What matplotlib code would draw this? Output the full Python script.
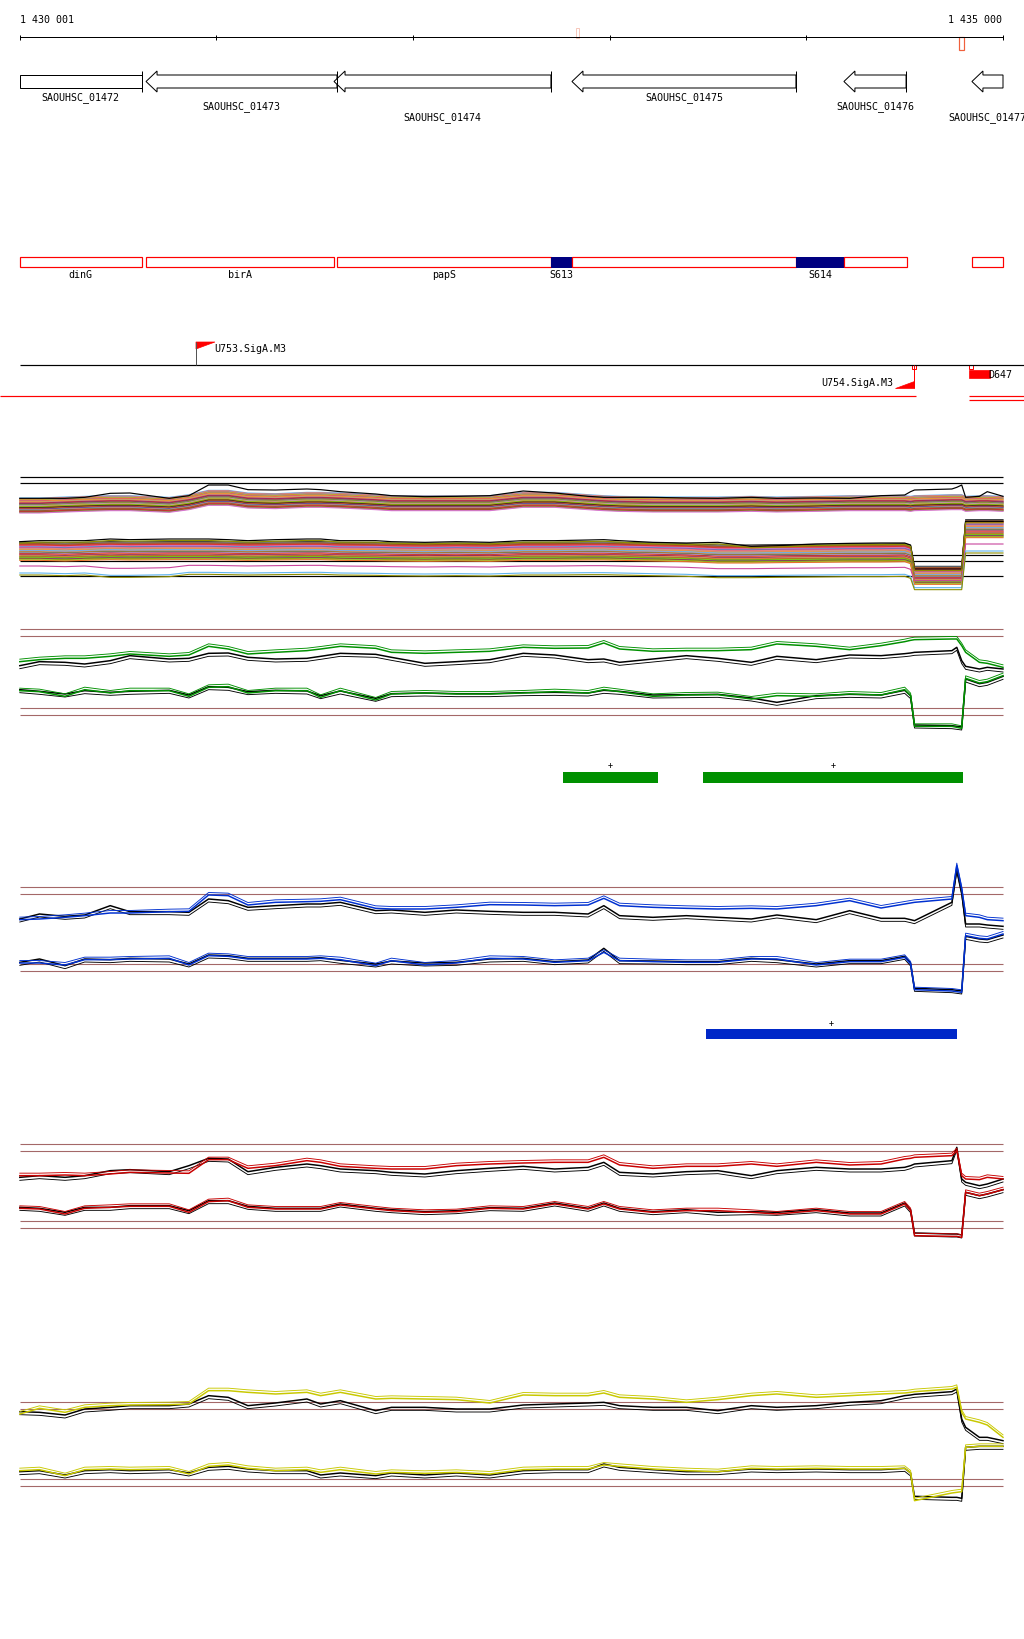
import numpy as np
import matplotlib
matplotlib.use("Agg")
import matplotlib.pyplot as plt
from matplotlib.patches import Rectangle, Polygon
from matplotlib.transforms import offset_copy

# ---------------- data ----------------
START, END = 1430001, 1435000
RULER_TICKS = [1430001, 1431000, 1432000, 1433000, 1434000, 1435000]
RULER_LABELS = ["1 430 001", "1 435 000"]

GENE_NAMES = ["SAOUHSC_01472", "SAOUHSC_01473", "SAOUHSC_01474",
              "SAOUHSC_01475", "SAOUHSC_01476", "SAOUHSC_01477"]
GENE_START = [1430001, 1430642, 1431598, 1432808, 1434191, 1434842]
GENE_END = [1430620, 1431613, 1432701, 1433947, 1434507, 1435000]
GENE_STRAND = ["+", "-", "-", "-", "-", "-"]

FEAT_START = [1430001, 1430642, 1431613, 1432701, 1432808, 1433947, 1434191, 1434842]
FEAT_END = [1430620, 1431598, 1432701, 1432808, 1433947, 1434191, 1434512, 1435000]
FEAT_LABEL = ["dinG", "birA", "papS", "S613", "", "S614", "", ""]
FEAT_KIND = ["gene", "gene", "gene", "srna", "gene", "srna", "gene", "gene"]

PROM_NAMES = ["U753.SigA.M3", "U754.SigA.M3"]
PROM_POS = [1430896, 1434547]
PROM_STRAND = ["+", "-"]
TERM_NAME = "D647"
TERM_START, TERM_END = 1434827, 1434934

TU_START = [1429899, 1434827, 1434827]
TU_END = [1434558, 1435107, 1435107]
TU_ROW = [0, 0, 1]

GREEN_SEG_START = [1432762, 1433474]
GREEN_SEG_END = [1433246, 1434797]
BLUE_SEG_START = [1433490]
BLUE_SEG_END = [1434766]

# position (kb from window start) of the profile samples
X_KB = [0.0, 0.1, 0.23, 0.33, 0.46, 0.56, 0.76, 0.86, 0.96, 1.06, 1.16, 1.3, 1.46, 1.53,
        1.63, 1.81, 1.89, 2.06, 2.22, 2.39, 2.56, 2.72, 2.89, 2.97, 3.05, 3.22, 3.39, 3.55,
        3.72, 3.85, 4.05, 4.22, 4.38, 4.5, 4.53, 4.55, 4.74, 4.765, 4.79, 4.81, 4.88, 4.92, 5.0]

# many-condition panel
M_UP_TOP = [282, 282, 282, 285, 297, 298, 282, 290, 322, 322, 308, 307, 310, 308, 302, 295,
            290, 287, 288, 290, 304, 298, 288, 285, 285, 285, 283, 282, 285, 282, 283, 282,
            290, 292, 302, 307, 310, 315, 322, 285, 288, 302, 288]
M_UP = [265, 265, 268, 270, 272, 272, 267, 275, 288, 288, 280, 278, 282, 282, 280, 275,
        272, 272, 272, 272, 282, 282, 275, 272, 270, 268, 268, 268, 270, 268, 270, 272,
        272, 272, 270, 272, 275, 275, 275, 270, 272, 272, 270]
M_LO_TOP = [152, 155, 155, 155, 160, 158, 160, 160, 160, 158, 155, 158, 160, 160, 155, 155,
            152, 150, 152, 150, 155, 155, 157, 158, 155, 150, 148, 150, 138, 140, 145, 147,
            148, 148, 142, 70, 70, 70, 70, 213, 213, 213, 213]
M_LO = [120, 120, 118, 120, 122, 121, 122, 122, 122, 121, 120, 121, 122, 122, 120, 119,
        118, 117, 118, 117, 120, 120, 121, 121, 120, 118, 116, 112, 112, 113, 114, 115,
        115, 116, 110, 48, 48, 48, 48, 188, 188, 188, 188]
M_LO_LOW = [79, 79, 77, 79, 72, 72, 74, 81, 81, 80, 79, 80, 81, 81, 79, 78,
            77, 76, 77, 76, 79, 79, 80, 80, 79, 77, 75, 71, 71, 72, 73, 74,
            74, 75, 69, 35, 35, 35, 35, 145, 145, 145, 145]
M_REFS = [346, 328, 112, 94, 49]

# green panel
G_UP_C = [272, 278, 282, 282, 288, 295, 288, 292, 318, 310, 295, 300, 305, 310, 318, 312,
          300, 297, 300, 303, 315, 312, 313, 328, 310, 303, 305, 305, 308, 325, 318, 308,
          320, 332, 336, 338, 340, 340, 320, 300, 270, 267, 255]
G_UP_K = [260, 272, 270, 265, 275, 290, 280, 282, 297, 298, 285, 280, 282, 288, 297, 294,
          285, 267, 272, 278, 297, 292, 278, 280, 270, 280, 290, 282, 270, 288, 278, 292,
          290, 296, 298, 300, 305, 315, 275, 258, 250, 255, 250]
G_LO_C = [185, 182, 168, 188, 178, 185, 185, 168, 195, 197, 178, 185, 185, 165, 185, 157,
          175, 178, 175, 175, 178, 182, 178, 188, 182, 168, 172, 173, 160, 170, 168, 175,
          172, 188, 170, 78, 78, 75, 72, 222, 208, 212, 230]
G_LO_K = [188, 183, 175, 185, 180, 183, 186, 172, 197, 195, 182, 186, 184, 170, 184, 162,
          176, 178, 176, 176, 179, 180, 178, 186, 183, 172, 173, 174, 163, 150, 170, 174,
          172, 186, 170, 82, 80, 78, 76, 220, 206, 210, 228]
G_THR = [369, 348, 134, 113]

# blue panel
B_UP_C = [218, 220, 225, 230, 238, 238, 242, 243, 292, 290, 262, 270, 272, 273, 278, 252,
          250, 250, 255, 263, 262, 260, 262, 282, 260, 255, 252, 250, 252, 250, 260, 275,
          253, 265, 268, 270, 280, 380, 310, 230, 225, 218, 215]
B_UP_K = [220, 235, 228, 232, 260, 242, 242, 240, 280, 275, 255, 260, 265, 265, 270, 245,
          247, 240, 247, 243, 240, 240, 235, 260, 230, 225, 230, 225, 220, 232, 218, 245,
          222, 222, 218, 215, 270, 370, 300, 205, 205, 202, 198]
B_LO_C = [88, 88, 82, 98, 98, 100, 102, 82, 110, 108, 100, 100, 100, 102, 98, 80,
          95, 82, 88, 102, 100, 90, 95, 120, 95, 92, 90, 90, 100, 100, 82, 92,
          92, 105, 85, 8, 4, 2, 0, 170, 162, 160, 175]
B_LO_K = [90, 100, 80, 100, 98, 102, 100, 85, 112, 110, 102, 102, 102, 104, 96, 85,
          94, 88, 90, 100, 102, 92, 97, 132, 95, 94, 92, 92, 102, 98, 85, 95,
          95, 108, 88, 12, 8, 6, 4, 168, 160, 158, 172]
B_THR = [315, 294, 84, 63]

# red panel
R_UP_C = [260, 260, 262, 260, 265, 270, 268, 267, 308, 308, 282, 290, 305, 300, 288, 282,
          280, 280, 290, 295, 298, 300, 300, 315, 292, 282, 288, 288, 295, 288, 300, 292,
          295, 310, 312, 315, 320, 335, 260, 250, 248, 255, 250]
R_UP_K = [255, 260, 255, 260, 275, 278, 272, 290, 312, 310, 272, 285, 295, 290, 280, 275,
          270, 265, 275, 282, 288, 280, 285, 300, 270, 265, 272, 275, 260, 275, 285, 280,
          280, 285, 290, 295, 305, 345, 250, 240, 230, 235, 250]
R_LO_C = [162, 160, 145, 162, 165, 168, 168, 150, 182, 185, 165, 160, 160, 160, 172, 160,
          155, 150, 152, 162, 160, 175, 160, 175, 160, 150, 155, 155, 150, 145, 155, 145,
          145, 175, 155, 80, 78, 78, 75, 210, 200, 205, 218]
R_LO_K = [165, 162, 150, 165, 165, 170, 170, 155, 185, 185, 168, 162, 162, 162, 175, 162,
          158, 152, 155, 164, 162, 178, 162, 178, 162, 152, 158, 150, 152, 150, 158, 148,
          148, 178, 158, 88, 85, 85, 82, 210, 200, 205, 218]
R_THR = [354, 333, 123, 102]

# yellow panel
Y_UP_C = [295, 312, 300, 315, 320, 322, 323, 325, 365, 365, 360, 355, 360, 350, 360, 340,
          342, 340, 338, 328, 352, 350, 350, 358, 345, 340, 330, 338, 350, 355, 345, 350,
          355, 358, 360, 362, 370, 375, 300, 280, 270, 262, 225]
Y_UP_K = [302, 300, 292, 310, 315, 320, 320, 325, 350, 345, 320, 328, 340, 325, 335, 305,
          315, 315, 310, 310, 322, 325, 328, 330, 320, 315, 315, 305, 320, 315, 320, 330,
          335, 350, 352, 354, 362, 370, 280, 255, 225, 225, 215]
Y_LO_C = [125, 128, 110, 128, 130, 128, 130, 115, 138, 142, 132, 125, 128, 120, 128, 115,
          120, 117, 120, 115, 128, 130, 130, 142, 138, 130, 125, 122, 132, 130, 132, 130,
          130, 132, 118, 35, 58, 60, 62, 195, 198, 198, 198]
Y_LO_K = [122, 125, 112, 125, 128, 125, 128, 118, 135, 138, 130, 125, 125, 112, 118, 110,
          118, 112, 118, 112, 125, 128, 128, 145, 135, 128, 122, 122, 130, 128, 130, 128,
          128, 132, 118, 48, 45, 45, 42, 195, 198, 198, 198]
Y_THR = [330, 309, 99, 78]

# ---------------- layout / style ----------------
W, H = 1024, 1640
BPP = (END - START) / 983.0
XL = (START - 20 * BPP, START + 1004 * BPP)
PX = 0.72
MONO = dict(family="DejaVu Sans Mono", fontsize=7.2, color="black")

fig = plt.figure(figsize=(W / 100, H / 100), dpi=100)
fig.patch.set_facecolor("white")

ax0 = fig.add_axes([0, 0, 1, 1])
ax0.set_xlim(*XL)
ax0.set_ylim(H, 0)
ax0.axis("off")

# ruler
ax0.hlines(38, START, END, color="black", lw=PX)
ax0.vlines(RULER_TICKS, 35.5, 40.5, color="black", lw=PX)
ax0.text(START, 20, RULER_LABELS[0], ha="left", va="center", **MONO)
ax0.text(END - 1 * BPP, 20, RULER_LABELS[1], ha="right", va="center", **MONO)
ax0.add_patch(Rectangle((1432829, 29), 2.5 * BPP, 10, fc="white", ec="#F6C8BC", lw=PX))
ax0.add_patch(Rectangle((1434776, 38), 5 * BPP, 13, fc="white", ec="#F0603C", lw=1.2 * PX))

# genes
HL = 11 * BPP
LABEL_Y = [97.5, 107, 118]
for i, name in enumerate(GENE_NAMES):
    s, e = GENE_START[i], GENE_END[i]
    if GENE_STRAND[i] == "-":
        poly = [(s, 82.5), (s + HL, 72), (s + HL, 76), (e, 76), (e, 89),
                (s + HL, 89), (s + HL, 93)]
        ax0.add_patch(Polygon(poly, closed=True, fc="white", ec="black", lw=PX))
    else:
        ax0.add_patch(Rectangle((s, 76), e - s, 13, fc="white", ec="black", lw=PX))
    if e < END:
        ax0.vlines(e, 72, 93, color="black", lw=PX)
    ax0.text((s + e) / 2, LABEL_Y[i % 3], name, ha="center", va="center", **MONO)

# feature boxes
for s, e, lab, kind in zip(FEAT_START, FEAT_END, FEAT_LABEL, FEAT_KIND):
    if kind == "srna":
        ax0.add_patch(Rectangle((s, 258), e - s, 10, fc="#000080", ec="#000080", lw=PX))
    else:
        ax0.add_patch(Rectangle((s, 258), e - s, 10, fill=False, ec="#FF0000", lw=1.2 * PX))
    if lab:
        ax0.text((s + e) / 2, 275, lab, ha="center", va="center", **MONO)

# promoters / terminator
ax0.hlines(366, START, XL[1], color="black", lw=1.2 * PX)
FL = 19 * BPP
for name, p, st in zip(PROM_NAMES, PROM_POS, PROM_STRAND):
    if st == "+":
        ax0.vlines(p, 343, 366, color="#555555", lw=PX)
        ax0.add_patch(Polygon([(p, 343), (p + FL, 343), (p, 350)], closed=True,
                              fc="#FF0000", ec="#FF0000", lw=0.5))
        ax0.text(p + 18 * BPP, 349, name, ha="left", va="center", **MONO)
    else:
        ax0.vlines(p, 366, 389, color="#FF0000", lw=PX)
        ax0.add_patch(Rectangle((p - 2 * BPP, 366), 4 * BPP, 4, fill=False, ec="#FF0000", lw=PX))
        ax0.add_patch(Polygon([(p, 382), (p, 389), (p - FL, 389)], closed=True,
                              fc="#FF0000", ec="#FF0000", lw=0.5))
        ax0.text(p - 21 * BPP, 383, name, ha="right", va="center", **MONO)
ax0.add_patch(Rectangle((TERM_START, 366), 4 * BPP, 4, fill=False, ec="#FF0000", lw=PX))
ax0.add_patch(Rectangle((TERM_START, 371), TERM_END - TERM_START, 8, fc="#FF0000", ec="#FF0000", lw=0.5))
ax0.text(TERM_END - 2 * BPP, 375, TERM_NAME, ha="left", va="center", **MONO)

for s, e, r in zip(TU_START, TU_END, TU_ROW):
    ax0.hlines(397 + 4 * r, s, e, color="#FF0000", lw=1.2 * PX)

# segment bars
for s, e in zip(GREEN_SEG_START, GREEN_SEG_END):
    ax0.add_patch(Rectangle((s, 773), e - s, 11, fc="#009000", ec="none"))
    ax0.text((s + e) / 2, 766, "+", ha="center", va="center", family="DejaVu Sans Mono",
             fontsize=6, color="black")
for s, e in zip(BLUE_SEG_START, BLUE_SEG_END):
    ax0.add_patch(Rectangle((s, 1030), e - s, 10, fc="#0028C8", ec="none"))
    ax0.text((s + e) / 2, 1023, "+", ha="center", va="center", family="DejaVu Sans Mono",
             fontsize=6, color="black")

# ---------------- signal panels ----------------
xs = START - 1 + np.array(X_KB) * 1000.0


def panel_axes(off, vlim):
    top = off + (400 - vlim[1]) / 3.0
    bot = off + (400 - vlim[0]) / 3.0
    ax = fig.add_axes([0, 1 - bot / H, 1, (bot - top) / H])
    ax.set_xlim(*XL)
    ax.set_ylim(*vlim)
    ax.axis("off")
    return ax


def shifted(ax, dy):
    return offset_copy(ax.transData, fig=fig, x=0, y=-dy, units="dots")


def line_panel(off, thr, up_c, up_k, lo_c, lo_k, color):
    ax = panel_axes(off, (-30, 430))
    ax.hlines(thr, START, END, color="#A46868", lw=1.1 * PX, zorder=1)
    for series in (up_k, lo_k):
        ax.plot(xs, series, color="black", lw=1.5 * PX, zorder=2)
        ax.plot(xs, series, color="black", lw=0.9 * PX, zorder=2, transform=shifted(ax, 3))
    for series in (up_c, lo_c):
        ax.plot(xs, series, color=color, lw=1.5 * PX, zorder=3)
        ax.plot(xs, series, color=color, lw=0.9 * PX, zorder=3, transform=shifted(ax, -2.5))


# many-condition panel
PAL = ["#E8702A", "#D9302C", "#8E8E00", "#5FB4EE", "#8B1A6B", "#C8449C", "#6EDC00",
       "#A0522D", "#F4826A", "#8C9BD0", "#1A1A1A", "#C9A45A", "#E03C3C", "#B4A0DC",
       "#FF8C1A", "#7A8C28", "#9C4A1C", "#FF6A4D", "#4A86C0", "#7F1F7F", "#D08A40",
       "#D873D0", "#9ACD32", "#B02828", "#6F8090", "#D2691E", "#BC8F8F", "#5A6B2F"]
axm = panel_axes(460, (-40, 400))
axm.hlines(M_REFS, START, END, color="black", lw=1.2 * PX, zorder=1)
up_off = np.linspace(-6, 9, len(PAL))
lo_off = np.linspace(-10, 8, len(PAL))
order = [3, 17, 9, 0, 22, 5, 14, 11, 26, 1, 19, 7, 24, 2, 13, 20, 6, 16, 10, 25, 4, 18, 8, 27, 12, 23, 15, 21]
for k, ci in enumerate(order):
    axm.plot(xs, M_UP, color=PAL[ci], lw=1.1 * PX,
             transform=shifted(axm, up_off[k]), zorder=2)
    axm.plot(xs, M_LO, color=PAL[(ci + 7) % len(PAL)], lw=1.1 * PX,
             transform=shifted(axm, lo_off[k]), zorder=2)
for col, dy in (("#C8449C", 0), ("#5FB4EE", 7), ("#8E8E00", 9)):
    axm.plot(xs, M_LO_LOW, color=col, lw=1.1 * PX,
             transform=shifted(axm, dy), zorder=2)
axm.plot(xs, M_UP_TOP, color="black", lw=1.2 * PX, zorder=3)
axm.plot(xs, M_LO_TOP, color="black", lw=1.2 * PX, zorder=3)
axm.plot(xs, M_LO_TOP, color="#8E8E00", lw=1.2 * PX,
         transform=shifted(axm, 1.5), zorder=3)

line_panel(620, G_THR, G_UP_C, G_UP_K, G_LO_C, G_LO_K, "#009000")
line_panel(860, B_THR, B_UP_C, B_UP_K, B_LO_C, B_LO_K, "#0030D0")
line_panel(1130, R_THR, R_UP_C, R_UP_K, R_LO_C, R_LO_K, "#C80000")
line_panel(1380, Y_THR, Y_UP_C, Y_UP_K, Y_LO_C, Y_LO_K, "#C8C800")

fig.savefig("out.png", dpi=100, facecolor="white")
